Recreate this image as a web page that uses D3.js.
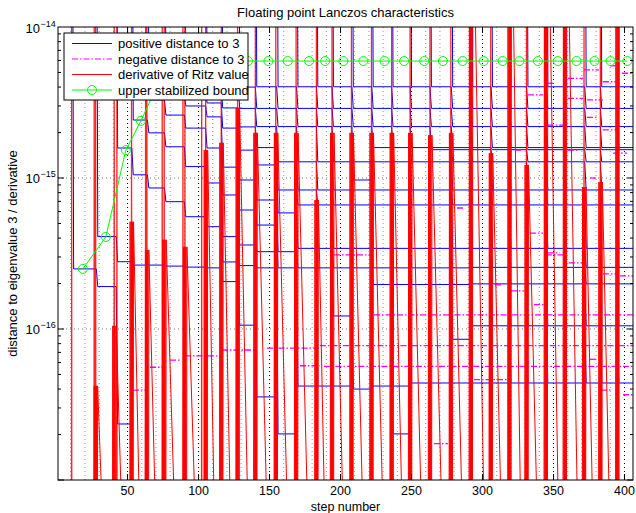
<!DOCTYPE html>
<html>
<head>
<meta charset="utf-8">
<script src="https://cdn.jsdelivr.net/npm/d3@7"></script>
<style>
body { margin: 0; background: #fff; }
text { font-family: "Liberation Sans", Arial, Helvetica, sans-serif; }
</style>
</head>
<body>
<svg id="chart" width="636" height="513"></svg>
<script>
/* data */
const xTicks = [50, 100, 150, 200, 250, 300, 350, 400];
const yTickExps = [-14, -15, -16];

// steps where a copy of eigenvalue 3 converges (red spikes)
const spikeSteps = [10.6, 26.5, 27.5, 40.6, 42.5, 52.8, 62.7, 63.6, 74.4, 75.8, 89, 90.4,
  102.2, 105, 116, 127.5, 140, 154.4, 168.7, 183, 194, 207.7, 221.8, 236, 249, 263,
  277.7, 291.8, 305.8, 319, 331, 344.6, 358, 371.5, 383, 395];
// height reached by the dense part of each spike (0 = thin line only)
const spikePeaks = [0, 0, 4.2e-17, 1.05e-16, 0, 5.13e-16, 0, 3.34e-16, 0, 3.9e-16, 0, 3.5e-16,
  0, 1.53e-15, 1.71e-15, 2.91e-15, 1.99e-15, 1.99e-15, 1.99e-15, 7.15e-16, 1.99e-15, 1.99e-15,
  1.99e-15, 1.99e-15, 1.99e-15, 1.92e-15, 1.99e-15, 1e-13, 1.46e-15, 1e-13, 1.22e-15, 1e-13,
  1e-13, 8.7e-16, 9.4e-16, 1e-13];

// blue: steps where the levels change, and the levels held in each interval (top to bottom)
const blueSteps = [11, 28, 42, 53, 64, 76, 90, 105, 116, 128, 140, 155, 169, 183, 194, 208,
  222, 236, 249, 263, 278, 292, 306, 319, 331, 345, 358, 372, 383, 395];
const blueLevels = [
  [2.50e-16],
  [4.09e-16, 1.91e-16],
  [1.58e-15, 2.79e-16, 2.35e-17],
  [2.42e-15, 1.05e-15, 2.65e-16],
  [3.29e-15, 1.99e-15, 8.59e-16, 2.65e-16],
  [3.71e-15, 2.61e-15, 1.61e-15, 6.97e-16, 2.61e-16],
  [3.94e-15, 3.00e-15, 2.14e-15, 1.19e-15, 5.54e-16, 2.57e-16],
  [4.00e-15, 3.14e-15, 2.54e-15, 1.58e-15, 9.27e-16, 4.76e-16, 2.54e-16],
  [4.00e-15, 2.91e-15, 2.14e-15, 1.18e-15, 7.72e-16, 4.09e-16, 2.78e-16, 2.06e-16],
  [4.00e-15, 2.89e-15, 2.18e-15, 1.53e-15, 9.70e-16, 6.14e-16, 3.60e-16, 2.63e-16, 1.06e-16],
  [4.02e-15, 2.89e-15, 2.19e-15, 1.59e-15, 1.22e-15, 7.15e-16, 4.88e-16, 3.25e-16, 2.54e-16, 3.55e-17],
  [4.02e-15, 2.89e-15, 2.19e-15, 1.28e-15, 8.33e-16, 5.87e-16, 3.25e-16, 2.54e-16, 2.02e-17],
  [4.02e-15, 2.89e-15, 2.19e-15, 1.28e-15, 8.33e-16, 6.63e-16, 3.42e-16, 2.54e-16, 4.19e-17],
  [4.02e-15, 2.89e-15, 2.19e-15, 1.28e-15, 8.33e-16, 6.63e-16, 3.42e-16, 2.54e-16, 4.19e-17],
  [4.02e-15, 2.89e-15, 2.19e-15, 1.28e-15, 8.33e-16, 6.63e-16, 3.42e-16, 2.54e-16, 1.22e-16, 4.19e-17],
  [4.02e-15, 2.89e-15, 2.19e-15, 1.28e-15, 9.70e-16, 8.33e-16, 6.63e-16, 3.42e-16, 2.54e-16, 4.00e-17],
  [4.02e-15, 2.89e-15, 2.19e-15, 1.59e-15, 1.28e-15, 8.33e-16, 6.63e-16, 3.42e-16, 2.54e-16, 1.97e-16, 4.19e-17],
  [4.02e-15, 2.89e-15, 2.19e-15, 1.59e-15, 1.28e-15, 8.33e-16, 6.63e-16, 3.42e-16, 2.54e-16, 1.97e-16, 4.19e-17, 2.02e-17],
  [4.02e-15, 2.89e-15, 2.19e-15, 1.59e-15, 1.28e-15, 8.33e-16, 6.63e-16, 3.42e-16, 2.54e-16, 1.97e-16, 4.39e-17],
  [4.02e-15, 2.89e-15, 2.19e-15, 1.59e-15, 1.54e-15, 1.28e-15, 8.33e-16, 6.63e-16, 3.42e-16, 2.54e-16, 1.97e-16, 4.39e-17],
  [4.02e-15, 2.89e-15, 2.19e-15, 1.59e-15, 1.54e-15, 1.28e-15, 8.33e-16, 6.63e-16, 3.42e-16, 2.54e-16, 1.97e-16, 8.55e-17, 4.39e-17],
  [4.02e-15, 2.89e-15, 2.19e-15, 1.59e-15, 1.54e-15, 1.28e-15, 8.33e-16, 6.63e-16, 3.42e-16, 2.56e-16, 1.99e-16, 1.05e-16, 4.39e-17],
  [4.02e-15, 2.89e-15, 2.19e-15, 1.59e-15, 1.54e-15, 1.28e-15, 8.33e-16, 6.63e-16, 3.42e-16, 2.56e-16, 1.99e-16, 1.05e-16, 4.39e-17],
  [4.02e-15, 2.89e-15, 2.19e-15, 1.59e-15, 1.54e-15, 1.28e-15, 8.33e-16, 6.63e-16, 3.42e-16, 2.56e-16, 1.99e-16, 1.05e-16, 4.39e-17],
  [4.02e-15, 2.89e-15, 2.19e-15, 1.59e-15, 1.54e-15, 1.28e-15, 8.33e-16, 6.63e-16, 3.42e-16, 2.56e-16, 1.99e-16, 1.05e-16, 4.39e-17],
  [4.02e-15, 2.89e-15, 2.19e-15, 1.59e-15, 1.54e-15, 1.28e-15, 8.33e-16, 6.63e-16, 3.42e-16, 2.56e-16, 1.99e-16, 1.05e-16, 4.39e-17],
  [4.02e-15, 2.89e-15, 2.19e-15, 1.59e-15, 1.54e-15, 1.28e-15, 8.33e-16, 6.63e-16, 3.42e-16, 2.56e-16, 1.99e-16, 1.05e-16, 4.39e-17],
  [4.02e-15, 2.89e-15, 2.19e-15, 1.59e-15, 1.54e-15, 1.28e-15, 8.33e-16, 6.63e-16, 3.42e-16, 2.56e-16, 1.99e-16, 1.05e-16, 4.39e-17],
  [4.02e-15, 2.89e-15, 2.19e-15, 1.59e-15, 1.54e-15, 1.28e-15, 8.33e-16, 6.63e-16, 3.42e-16, 2.56e-16, 1.99e-16, 1.05e-16, 4.39e-17],
  [4.02e-15, 2.89e-15, 2.19e-15, 1.59e-15, 1.54e-15, 1.28e-15, 8.33e-16, 6.63e-16, 3.42e-16, 2.56e-16, 1.99e-16, 1.05e-16, 4.39e-17]
];

// magenta pieces: [from step, to step, value]
const negSegments = [
  [53.8, 62.3, 3.94e-17], [65.8, 75, 5.58e-17], [79.9, 86.9, 6.23e-17], [90.4, 116.5, 6.63e-17],
  [116.5, 139.7, 7.26e-17], [148.2, 185.5, 7.48e-17], [185.5, 406, 7.75e-17], [171.4, 185.5, 5.71e-17],
  [188.3, 406, 5.66e-17], [223.6, 406, 1.24e-16], [294, 320, 4.62e-17], [399, 406, 3.67e-17],
  [265.8, 275.7, 1.74e-17], [320, 329.2, 1.79e-16], [308.8, 313.7, 1.96e-16], [336.2, 344.7, 1.45e-16],
  [360.9, 370.8, 2.74e-16], [344.7, 358.8, 3.10e-16], [384.8, 394, 2.32e-16], [396.8, 406, 2.25e-16],
  [195.4, 221.5, 3.10e-16], [346, 351, 4.24e-15], [360.2, 370.8, 4.57e-15], [384.8, 394.7, 4.34e-15],
  [398.3, 405.3, 4.94e-15], [389.8, 394.7, 5.54e-15], [371.5, 382, 5.2e-15], [332, 342.6, 3.55e-15],
  [360.2, 370.8, 3.37e-15], [373.6, 384.8, 3.29e-15], [373.6, 381.3, 2.52e-15], [346, 358.8, 2.24e-15],
  [384.8, 394.7, 2.08e-15], [322.9, 327.8, 1.53e-15], [360.2, 367.2, 1.53e-15], [392, 401.8, 1.46e-15],
  [375.7, 381.3, 1.0e-15], [282, 287.7, 6.33e-16], [333.4, 342.6, 4.32e-16], [346, 354.4, 3.19e-16],
  [375.7, 381.3, 6.3e-17], [383.5, 390.5, 3.94e-17]
];

// green bound
const boundSteps = [18.5, 34.7, 48.8, 59.4, 72, 86, 100, 118, 134.8, 149.2, 162.8, 177.9, 189.2,
  202, 216.1, 231, 244.8, 259, 272.1, 286, 300.8, 314.2, 326, 339, 353, 366.2, 378.9, 390.2, 402];
const boundVals = [2.50e-16, 4.07e-16, 1.53e-15, 2.39e-15, 4.3e-15, 5.9e-15, 5.95e-15, 5.95e-15,
  5.95e-15, 5.95e-15, 5.95e-15, 5.95e-15, 5.95e-15, 5.95e-15, 5.95e-15, 5.95e-15, 5.95e-15,
  5.95e-15, 5.95e-15, 5.95e-15, 5.95e-15, 5.95e-15, 5.95e-15, 5.95e-15, 5.95e-15, 5.95e-15,
  5.95e-15, 5.95e-15, 5.95e-15];

const legendNames = ["positive distance to 3", "negative distance to 3",
  "derivative of Ritz value", "upper stabilized bound"];

/* chart */
const BLUE = "#0000ff", MAG = "#ff00ff", RED = "#ff0000", GREEN = "#00ff00";
const LO = 1e-19, HI = 1e-12, XEND = 406;

const svg = d3.select("#chart");
const x = d3.scaleLinear().domain([1, 406]).range([58, 633]);
const y = d3.scaleLog().domain([1e-17, 1e-14]).range([480, 27]);
const line = d3.line().x(d => x(d[0])).y(d => y(d[1]));

svg.append("rect").attr("width", 636).attr("height", 513).attr("fill", "#fff");

svg.append("clipPath").attr("id", "plot")
  .append("rect").attr("x", 58).attr("y", 27).attr("width", 575).attr("height", 453);

// grid
const grid = svg.append("g");
const minorX = d3.range(10, 406, 10).filter(v => v % 50 != 0);
grid.selectAll(".mx").data(minorX).enter().append("line")
  .attr("x1", d => x(d)).attr("x2", d => x(d)).attr("y1", 27).attr("y2", 480)
  .attr("stroke", "#999").attr("stroke-dasharray", "1,3");
grid.selectAll(".Mx").data(xTicks).enter().append("line")
  .attr("x1", d => x(d)).attr("x2", d => x(d)).attr("y1", 27).attr("y2", 480)
  .attr("stroke", "#000").attr("stroke-dasharray", "1,3");
grid.selectAll(".My").data([1e-15, 1e-16]).enter().append("line")
  .attr("x1", 58).attr("x2", 633).attr("y1", d => y(d)).attr("y2", d => y(d))
  .attr("stroke", "#777").attr("stroke-dasharray", "1,3");

const plot = svg.append("g").attr("clip-path", "url(#plot)");

// blue curves: each new copy enters from the top and slides one level down per step
let curves = [];
blueSteps.forEach((t0, c) => {
  let pts = [[t0, HI]];
  for (let j = c; j < blueSteps.length; j++) {
    let r = j - c;
    let lv = blueLevels[j];
    let tEnd = j + 1 < blueSteps.length ? blueSteps[j + 1] : XEND;
    if (r >= lv.length) {
      pts.push([blueSteps[j] + 1, LO]);
      break;
    }
    pts.push([blueSteps[j] + 1, lv[r]], [tEnd, lv[r]]);
  }
  curves.push(pts);
});
plot.selectAll(".pos").data(curves).enter().append("path")
  .attr("d", line).attr("fill", "none").attr("stroke", BLUE).attr("stroke-width", 1);

// magenta pieces
plot.selectAll(".neg").data(negSegments).enter().append("path")
  .attr("d", d => line([[d[0], d[2]], [d[1], d[2]]]))
  .attr("fill", "none").attr("stroke", MAG).attr("stroke-width", 1.3)
  .attr("stroke-dasharray", "6,2,1.5,2");

// red spikes: a thin full-height line plus a dense band up to its peak
let thin = [], dense = [];
spikeSteps.forEach((s, i) => {
  thin.push([s - 0.25, LO], [s, HI], [s + 0.25, LO]);
  if (spikePeaks[i] > 0) {
    for (let k = 0; k <= 7; k++) {
      dense.push([s - 1.4 + k * 0.4, k % 2 ? spikePeaks[i] : LO]);
    }
  }
});
plot.append("path").attr("d", line(thin)).attr("fill", "none")
  .attr("stroke", RED).attr("stroke-opacity", 0.85).attr("stroke-width", 1.1);
plot.append("path").attr("d", line(dense)).attr("fill", "none")
  .attr("stroke", RED).attr("stroke-width", 1);

// green bound
const bound = boundSteps.map((s, i) => [s, boundVals[i]]);
plot.append("path").attr("d", line(bound)).attr("fill", "none")
  .attr("stroke", GREEN).attr("stroke-width", 1);
plot.selectAll(".bnd").data(bound).enter().append("circle")
  .attr("cx", d => x(d[0])).attr("cy", d => y(d[1])).attr("r", 4.5)
  .attr("fill", "none").attr("stroke", GREEN).attr("stroke-width", 1);

// axes box and ticks (inward, MATLAB style)
const ax = svg.append("g").attr("stroke", "#000").attr("stroke-width", 1);
ax.append("rect").attr("x", 58).attr("y", 27).attr("width", 575).attr("height", 453)
  .attr("fill", "none");
xTicks.forEach(t => {
  ax.append("line").attr("x1", x(t)).attr("x2", x(t)).attr("y1", 480).attr("y2", 474);
  ax.append("line").attr("x1", x(t)).attr("x2", x(t)).attr("y1", 27).attr("y2", 33);
});
d3.range(-17, -14).forEach(e => {
  for (let m = 1; m < 10; m++) {
    let v = m * Math.pow(10, e);
    let len = m == 1 ? 6 : 3;
    ax.append("line").attr("x1", 58).attr("x2", 58 + len).attr("y1", y(v)).attr("y2", y(v));
    ax.append("line").attr("x1", 633).attr("x2", 633 - len).attr("y1", y(v)).attr("y2", y(v));
  }
});

// tick labels
svg.selectAll(".xl").data(xTicks).enter().append("text")
  .attr("x", d => x(d)).attr("y", 495).attr("text-anchor", "middle")
  .attr("font-size", 12.5).text(d => d);
yTickExps.forEach(e => {
  let yy = y(Math.pow(10, e));
  if (e == -14) yy += 1;
  svg.append("text").attr("x", 40).attr("y", yy + 4.8).attr("text-anchor", "end")
    .attr("font-size", 13).text("10");
  svg.append("text").attr("x", 40.5).attr("y", yy - 1.5)
    .attr("font-size", 9).text("\u2212" + (-e));
});

// titles
svg.append("text").attr("x", 345.5).attr("y", 17).attr("text-anchor", "middle")
  .attr("font-size", 13).text("Floating point Lanczos characteristics");
svg.append("text").attr("x", 345.5).attr("y", 510.5).attr("text-anchor", "middle")
  .attr("font-size", 12.5).text("step number");
svg.append("text").attr("transform", "translate(17,253.5) rotate(-90)")
  .attr("text-anchor", "middle").attr("font-size", 13)
  .text("distance to eigenvalue 3 / derivative");

// legend
const lg = svg.append("g");
lg.append("rect").attr("x", 64).attr("y", 33).attr("width", 184).attr("height", 67)
  .attr("fill", "#fff").attr("stroke", "#000");
const rowY = [43.5, 59, 74.5, 90];
const styles = [
  { c: BLUE, dash: null }, { c: MAG, dash: "6,2,1.5,2" },
  { c: RED, dash: null }, { c: GREEN, dash: null }
];
legendNames.forEach((n, i) => {
  lg.append("line").attr("x1", 72).attr("x2", 112).attr("y1", rowY[i]).attr("y2", rowY[i])
    .attr("stroke", styles[i].c).attr("stroke-dasharray", styles[i].dash);
  lg.append("text").attr("x", 118).attr("y", rowY[i]).attr("dy", "0.35em")
    .attr("font-size", 13).text(n);
});
lg.append("circle").attr("cx", 92).attr("cy", rowY[3]).attr("r", 4.5)
  .attr("fill", "none").attr("stroke", GREEN);
</script>
</body>
</html>
